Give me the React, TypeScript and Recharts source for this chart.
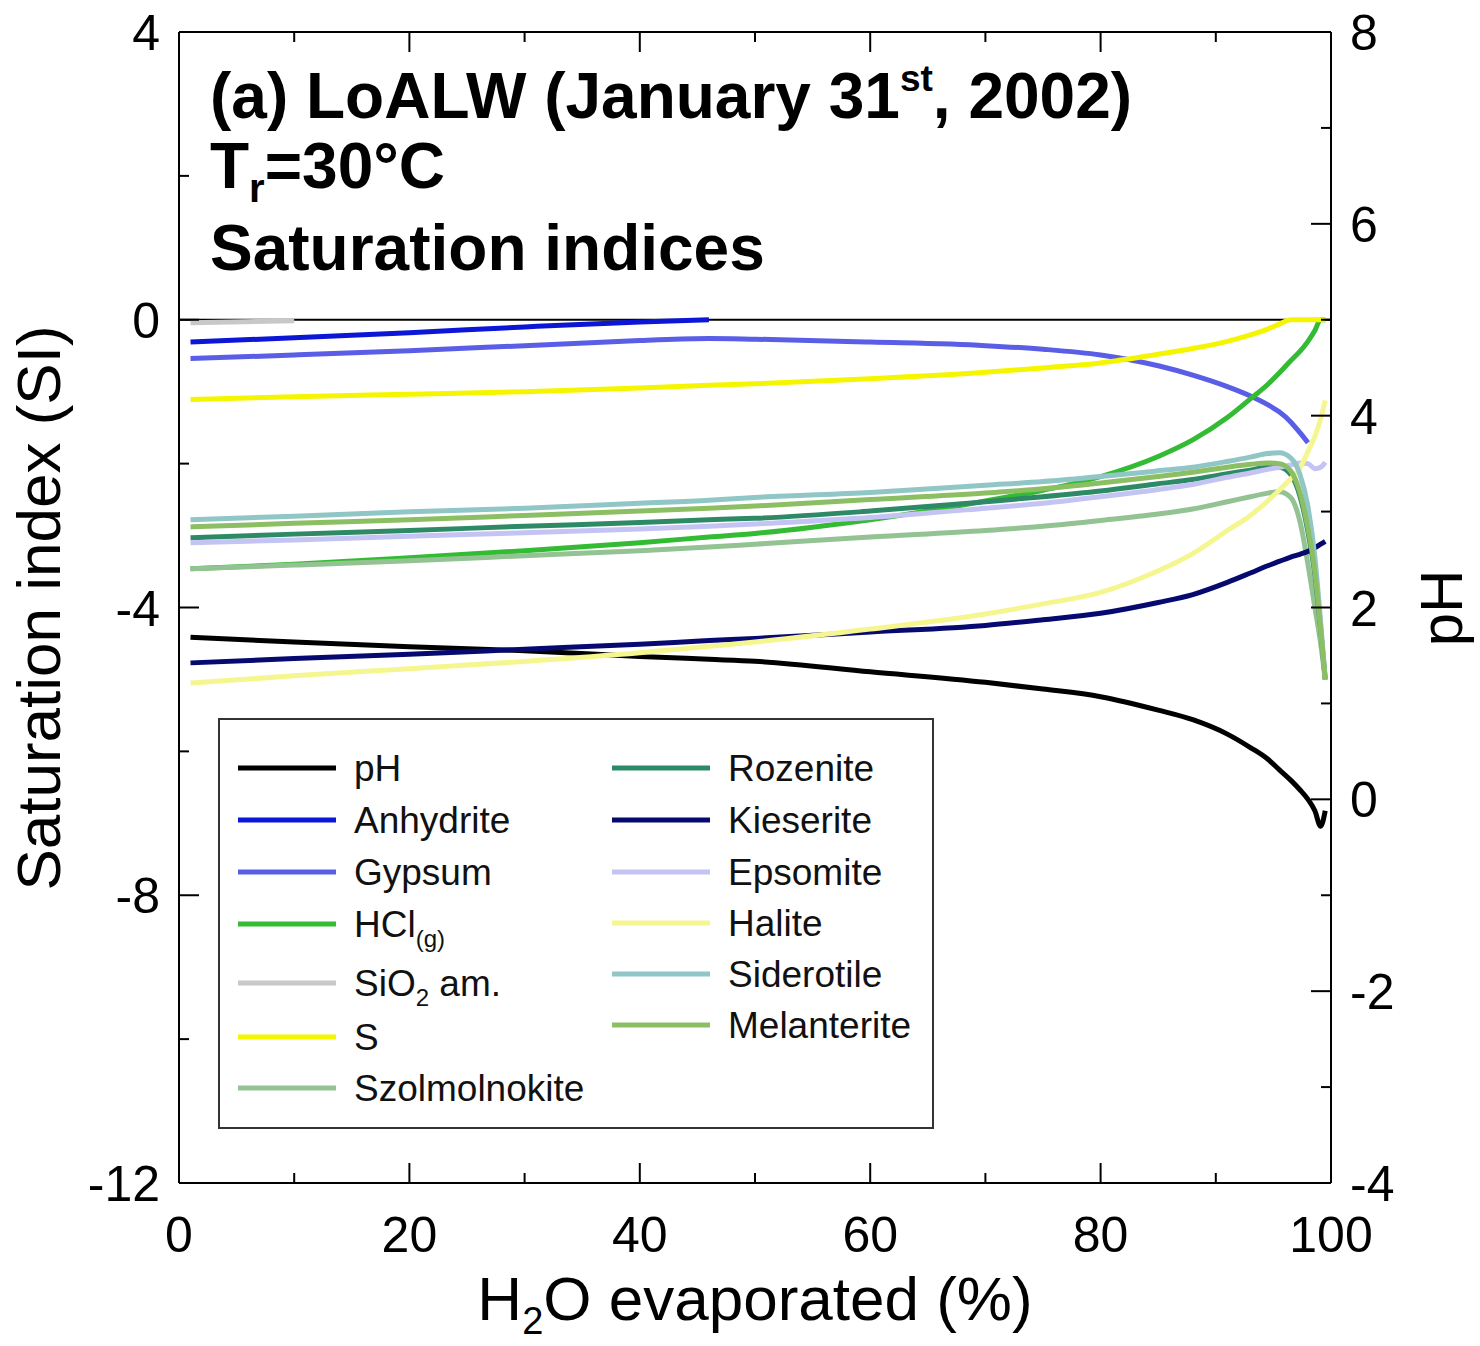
import React from 'react';
import { LineChart, Line, XAxis, YAxis, ReferenceLine } from 'recharts';

// H2O evaporated (%) at which each state was computed
const evaporated = [1, 10, 20, 30, 40, 46, 50, 60, 70, 75, 80, 85, 88, 91, 93, 94.5, 95.5, 96.5, 97.3, 98, 98.6, 99.1, 99.5];

// pH (right axis)
const pH = [1.69, 1.64, 1.59, 1.55, 1.49, 1.46, 1.44, 1.33, 1.22, 1.15, 1.07, 0.93, 0.83, 0.68, 0.54, 0.42, 0.31, 0.2, 0.1, 0.0, -0.12, -0.28, -0.12];

// saturation indices (left axis)
const anhydrite = [-0.31, -0.25, -0.18, -0.1, -0.03, 0, null, null, null, null, null, null, null, null, null, null, null, null, null, null, null, null, null];
const gypsum = [-0.54, -0.49, -0.43, -0.36, -0.29, -0.26, -0.27, -0.31, -0.36, -0.41, -0.49, -0.64, -0.77, -0.93, -1.06, -1.18, -1.28, -1.42, -1.57, -1.71, null, null, null];
const hcl = [-3.46, -3.4, -3.31, -3.21, -3.1, -3.02, -2.97, -2.78, -2.52, -2.37, -2.18, -1.9, -1.67, -1.36, -1.1, -0.9, -0.74, -0.57, -0.44, -0.3, -0.15, 0, 0];
const sio2 = [-0.04, -0.015, null, null, null, null, null, null, null, null, null, null, null, null, null, null, null, null, null, null, null, null, null];
const sulfur = [-1.11, -1.07, -1.035, -1.0, -0.95, -0.91, -0.89, -0.82, -0.73, -0.67, -0.6, -0.48, -0.4, -0.3, -0.21, -0.13, -0.06, 0, 0, 0, 0, 0, 0];
const szolmolnokite = [-3.46, -3.41, -3.35, -3.28, -3.21, -3.16, -3.12, -3.02, -2.93, -2.87, -2.79, -2.7, -2.63, -2.53, -2.46, -2.41, -2.39, -2.47, -2.8, -3.4, -4.0, -4.5, -5.0];
const rozenite = [-3.03, -2.98, -2.93, -2.87, -2.82, -2.78, -2.76, -2.66, -2.53, -2.46, -2.38, -2.28, -2.22, -2.14, -2.09, -2.05, -2.05, -2.15, -2.45, -2.95, -3.55, -4.3, -5.0];
const kieserite = [-4.77, -4.71, -4.65, -4.58, -4.51, -4.46, -4.43, -4.34, -4.25, -4.17, -4.08, -3.93, -3.82, -3.65, -3.52, -3.42, -3.36, -3.3, -3.26, -3.22, -3.17, -3.12, -3.08];
const epsomite = [-3.1, -3.06, -3.01, -2.96, -2.91, -2.87, -2.84, -2.75, -2.62, -2.55, -2.46, -2.36, -2.29, -2.19, -2.13, -2.08, -2.05, -2.02, -1.99, -2.0, -2.07, -2.05, -1.98];
const halite = [-5.05, -4.95, -4.85, -4.75, -4.63, -4.54, -4.48, -4.3, -4.09, -3.95, -3.79, -3.49, -3.25, -2.93, -2.72, -2.52, -2.37, -2.21, -2.06, -1.83, -1.62, -1.38, -1.12];
const siderotile = [-2.78, -2.73, -2.67, -2.62, -2.55, -2.51, -2.47, -2.4, -2.3, -2.25, -2.18, -2.1, -2.05, -1.97, -1.91, -1.86, -1.85, -1.92, -2.15, -2.6, -3.3, -4.2, -5.0];
const melanterite = [-2.88, -2.83, -2.78, -2.72, -2.66, -2.62, -2.59, -2.5, -2.41, -2.35, -2.27, -2.18, -2.12, -2.05, -2.01, -1.99, -2.0, -2.1, -2.4, -2.9, -3.5, -4.3, -5.0];

const xTicks = [0, 10, 20, 30, 40, 50, 60, 70, 80, 90, 100];
const siTicks = [-12, -10, -8, -6, -4, -2, 0, 2, 4];
const phTicks = [-4, -3, -2, -1, 0, 1, 2, 3, 4, 5, 6, 7, 8];

const series = [
  { key: 'pH', name: 'pH', color: '#000000', values: pH, axis: 'ph' },
  { key: 'anhydrite', name: 'Anhydrite', color: '#0b16d6', values: anhydrite, axis: 'si' },
  { key: 'gypsum', name: 'Gypsum', color: '#5a5ee6', values: gypsum, axis: 'si' },
  { key: 'hcl', name: 'HCl(g)', color: '#33bb33', values: hcl, axis: 'si' },
  { key: 'sio2', name: 'SiO2 am.', color: '#c8c8c8', values: sio2, axis: 'si' },
  { key: 'sulfur', name: 'S', color: '#f5f500', values: sulfur, axis: 'si' },
  { key: 'szolmolnokite', name: 'Szolmolnokite', color: '#93c293', values: szolmolnokite, axis: 'si' },
  { key: 'rozenite', name: 'Rozenite', color: '#2e8a66', values: rozenite, axis: 'si' },
  { key: 'kieserite', name: 'Kieserite', color: '#060a70', values: kieserite, axis: 'si' },
  { key: 'epsomite', name: 'Epsomite', color: '#c4c4f4', values: epsomite, axis: 'si' },
  { key: 'halite', name: 'Halite', color: '#f6f690', values: halite, axis: 'si' },
  { key: 'siderotile', name: 'Siderotile', color: '#90c6c6', values: siderotile, axis: 'si' },
  { key: 'melanterite', name: 'Melanterite', color: '#8cbf64', values: melanterite, axis: 'si' },
];

const rows = evaporated.map((x, i) => {
  const row: Record<string, number | null> = { x };
  series.forEach((s) => {
    row[s.key] = s.values[i];
  });
  return row;
});

const FONT = '"Liberation Sans", Arial, Helvetica, sans-serif';
const TICK_FONT = 50;

const SiTick = (props: any) => {
  const { x, y, payload } = props;
  const major = payload.value % 4 === 0;
  return (
    <g>
      <line x1={x} y1={y} x2={x + (major ? 20 : 10)} y2={y} stroke="#000" strokeWidth={2} />
      {major && (
        <text x={x - 19} y={y} dy="0.36em" textAnchor="end" fontFamily={FONT} fontSize={TICK_FONT} fill="#000">
          {payload.value}
        </text>
      )}
    </g>
  );
};

const PhTick = (props: any) => {
  const { x, y, payload } = props;
  const major = payload.value % 2 === 0;
  return (
    <g>
      <line x1={x} y1={y} x2={x - (major ? 20 : 10)} y2={y} stroke="#000" strokeWidth={2} />
      {major && (
        <text x={x + 19} y={y} dy="0.36em" textAnchor="start" fontFamily={FONT} fontSize={TICK_FONT} fill="#000">
          {payload.value}
        </text>
      )}
    </g>
  );
};

const BottomTick = (props: any) => {
  const { x, y, payload } = props;
  const major = payload.value % 20 === 0;
  return (
    <g>
      <line x1={x} y1={y} x2={x} y2={y - (major ? 20 : 10)} stroke="#000" strokeWidth={2} />
      {major && (
        <text x={x} y={y + 69} textAnchor="middle" fontFamily={FONT} fontSize={TICK_FONT} fill="#000">
          {payload.value}
        </text>
      )}
    </g>
  );
};

const TopTick = (props: any) => {
  const { x, y, payload } = props;
  const major = payload.value % 20 === 0;
  return <line x1={x} y1={y} x2={x} y2={y + (major ? 20 : 10)} stroke="#000" strokeWidth={2} />;
};

// legend labels with sub/superscripts
const legendLabel = (name: string) => {
  if (name === 'HCl(g)') {
    return (
      <>
        HCl
        <tspan fontSize={24} dy={10}>(g)</tspan>
      </>
    );
  }
  if (name === 'SiO2 am.') {
    return (
      <>
        SiO
        <tspan fontSize={24} dy={10}>2</tspan>
        <tspan dy={-10}> am.</tspan>
      </>
    );
  }
  return name;
};

const leftRows = [768, 820, 872, 924, 983, 1037, 1088];
const rightRows = [768, 820, 872, 923, 974, 1025];

const Legend = () => (
  <g>
    <rect x={219} y={719} width={714} height={409} fill="#fff" stroke="#333" strokeWidth={2} />
    {series.map((s, i) => {
      const left = i < 7;
      const ly = left ? leftRows[i] : rightRows[i - 7];
      const x0 = left ? 238 : 612;
      return (
        <g key={s.key}>
          <line x1={x0} y1={ly} x2={x0 + 98} y2={ly} stroke={s.color} strokeWidth={5} />
          <text x={x0 + 116} y={ly + 13} fontFamily={FONT} fontSize={37} fill="#111">
            {legendLabel(s.name)}
          </text>
        </g>
      );
    })}
  </g>
);

export default function App() {
  return (
    <div style={{ position: 'absolute', left: 0, top: 0, width: 1480, height: 1346, background: '#fff' }}>
      <LineChart width={1480} height={1346} data={rows} margin={{ top: 2, right: 0, bottom: 0, left: 0 }}>
        <XAxis
          dataKey="x"
          type="number"
          domain={[0, 100]}
          ticks={xTicks}
          interval={0}
          height={163}
          tickSize={0}
          tickMargin={0}
          tickLine={false}
          axisLine={{ stroke: '#000', strokeWidth: 2 }}
          tick={(p: any) => <BottomTick {...p} />}
          allowDataOverflow
        />
        <XAxis
          xAxisId="top"
          dataKey="x"
          type="number"
          orientation="top"
          domain={[0, 100]}
          ticks={xTicks}
          interval={0}
          height={30}
          tickSize={0}
          tickMargin={0}
          tickLine={false}
          axisLine={{ stroke: '#000', strokeWidth: 2 }}
          tick={(p: any) => <TopTick {...p} />}
          allowDataOverflow
        />
        <YAxis
          yAxisId="si"
          type="number"
          domain={[-12, 4]}
          ticks={siTicks}
          interval={0}
          width={179}
          tickSize={0}
          tickMargin={0}
          tickLine={false}
          axisLine={{ stroke: '#000', strokeWidth: 2 }}
          tick={(p: any) => <SiTick {...p} />}
          allowDataOverflow
        />
        <YAxis
          yAxisId="ph"
          orientation="right"
          type="number"
          domain={[-4, 8]}
          ticks={phTicks}
          interval={0}
          width={149}
          tickSize={0}
          tickMargin={0}
          tickLine={false}
          axisLine={{ stroke: '#000', strokeWidth: 2 }}
          tick={(p: any) => <PhTick {...p} />}
          allowDataOverflow
        />
        <ReferenceLine yAxisId="si" y={0} stroke="#000" strokeWidth={2} />
        {series.map((s) => (
          <Line
            key={s.key}
            yAxisId={s.axis}
            dataKey={s.key}
            name={s.name}
            type="monotone"
            stroke={s.color}
            strokeWidth={5}
            dot={false}
            activeDot={false}
            connectNulls={false}
            isAnimationActive={false}
          />
        ))}
      </LineChart>
      <svg
        width={1480}
        height={1346}
        style={{ position: 'absolute', left: 0, top: 0, pointerEvents: 'none' }}
      >
        <g fontFamily={FONT} fontWeight="bold" fontSize={64} fill="#000">
          <text x={210} y={118}>
            (a) LoALW (January 31<tspan fontSize={37} dy={-27}>st</tspan>
            <tspan dy={27}>, 2002)</tspan>
          </text>
          <text x={210} y={188}>
            T<tspan fontSize={40} dy={14}>r</tspan>
            <tspan dy={-14}>=30°C</tspan>
          </text>
          <text x={210} y={270}>Saturation indices</text>
        </g>
        <Legend />
        <text
          x={0}
          y={0}
          transform="translate(60 608) rotate(-90)"
          textAnchor="middle"
          fontFamily={FONT}
          fontSize={62}
          fill="#000"
        >
          Saturation index (SI)
        </text>
        <text
          x={0}
          y={0}
          transform="translate(1462 608) rotate(-90)"
          textAnchor="middle"
          fontFamily={FONT}
          fontSize={60}
          fill="#000"
        >
          pH
        </text>
        <text x={755} y={1320} textAnchor="middle" fontFamily={FONT} fontSize={62} fill="#000">
          H<tspan fontSize={38} dy={14}>2</tspan>
          <tspan dy={-14}>O evaporated (%)</tspan>
        </text>
      </svg>
    </div>
  );
}
